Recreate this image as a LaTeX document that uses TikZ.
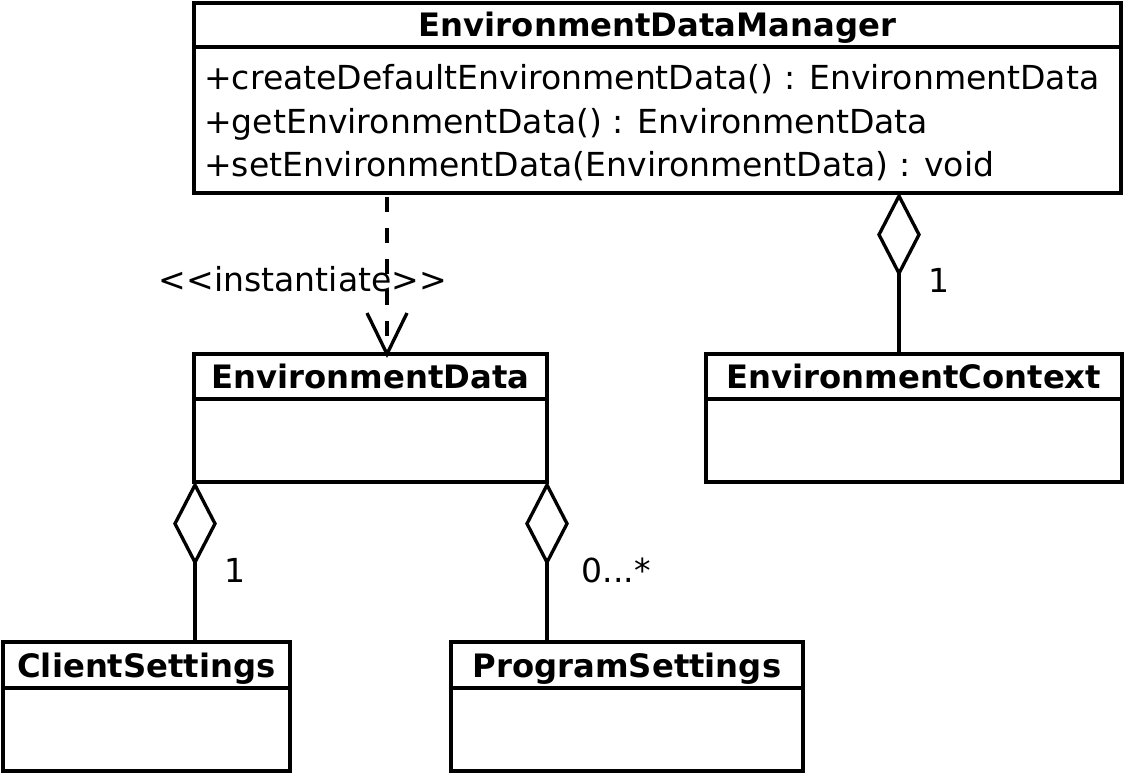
\documentclass[tikz,border=0pt]{standalone}
\usepackage{fontspec}
\setmainfont{DejaVu Sans}
\usetikzlibrary{shapes.geometric,calc}
\begin{document}
\begin{tikzpicture}[x=0.75pt,y=-0.75pt,
  ln/.style={line width=2.5pt, black},
  dep/.style={line width=2.5pt, black, dash pattern=on 11.25pt off 12pt},
  classbox/.style={draw, line width=2.5pt, inner sep=0pt, outer sep=0pt, anchor=north west},
  title/.style={font=\fontsize{24.2pt}{29pt}\selectfont\bfseries, anchor=base, inner sep=0pt},
  member/.style={font=\fontsize{24.8pt}{30pt}\selectfont, anchor=base west, inner sep=0pt},
  lbl/.style={font=\fontsize{24.8pt}{30pt}\selectfont, anchor=base, inner sep=0pt},
  agg/.style={diamond, draw, line width=2.5pt, fill=white, inner sep=0pt, outer sep=0pt,
              minimum width=30pt, minimum height=58pt, anchor=north},
]
\useasboundingbox (0,0) rectangle (1124,773);
\fill[white] (0,0) rectangle (1124,773);

% EnvironmentDataManager
\node[classbox, minimum width=695.25pt, minimum height=142.5pt] (edm) at (194,3) {};
\draw[ln] ($(edm.north west)+(0,44)$) -- ($(edm.north east)+(0,44)$);
\node[title] (edmt) at ($(edm.north)+(0,34)$) {EnvironmentDataManager};
\node[member] (op1) at (204,90) {+createDefaultEnvironmentData() : EnvironmentData};
\node[member] (op2) at (204,134) {+getEnvironmentData() : EnvironmentData};
\node[member] (op3) at (204,177) {+setEnvironmentData(EnvironmentData) : void};

% EnvironmentData
\node[classbox, minimum width=264.75pt, minimum height=96pt] (ed) at (194,354) {};
\draw[ln] ($(ed.north west)+(0,45)$) -- ($(ed.north east)+(0,45)$);
\node[title] (edt) at ($(ed.north)+(0,34)$) {EnvironmentData};

% EnvironmentContext
\node[classbox, minimum width=312pt, minimum height=96pt] (ectx) at (706,354) {};
\draw[ln] ($(ectx.north west)+(0,45)$) -- ($(ectx.north east)+(0,45)$);
\node[title] (ectxt) at ($(ectx.north)+(0,34)$) {EnvironmentContext};

% ClientSettings
\node[classbox, minimum width=215.25pt, minimum height=96.75pt] (cs) at (3,642) {};
\draw[ln] ($(cs.north west)+(0,46)$) -- ($(cs.north east)+(0,46)$);
\node[title] (cst) at ($(cs.north)+(0,35)$) {ClientSettings};

% ProgramSettings
\node[classbox, minimum width=264pt, minimum height=96.75pt] (ps) at (451,642) {};
\draw[ln] ($(ps.north west)+(0,46)$) -- ($(ps.north east)+(0,46)$);
\node[title] (pst) at ($(ps.north)+(0,35)$) {ProgramSettings};

% instantiate dependency
\coordinate (tip) at ($(ed.north west)+(193,0)$);
\draw[dep] ($(tip |- edm.south)+(0,4)$) -- (tip);
\draw[ln] ($(tip)+(-20,-41)$) -- (tip) -- ($(tip)+(20,-41)$);
\node[lbl] (inst) at (303,292) {{<}{<}instantiate{>}{>}};

% aggregation EnvironmentDataManager - EnvironmentContext
\node[agg] (a1) at (899,196) {};
\draw[ln] (a1.south) -- (a1.south |- ectx.north);
\node[lbl] (m1) at (939,293) {1};

% aggregation EnvironmentData - ClientSettings
\node[agg] (a2) at ($(ed.south west)+(1,3)$) {};
\draw[ln] (a2.south) -- (a2.south |- cs.north);
\node[lbl] (m2) at (235,582) {1};

% aggregation EnvironmentData - ProgramSettings
\node[agg] (a3) at ($(ed.south east)+(0,3)$) {};
\draw[ln] (a3.south) -- (a3.south |- ps.north);
\node[lbl] (m3) at (616,582) {0...*};
\end{tikzpicture}
\end{document}
